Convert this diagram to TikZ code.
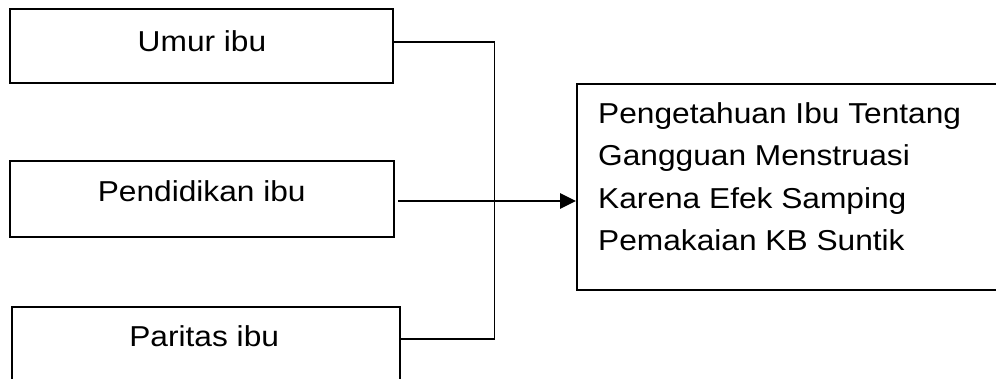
\documentclass[tikz,border=0pt]{standalone}
\usepackage{fontspec}
\setmainfont{Liberation Sans}[FakeStretch=1.1]
\usetikzlibrary{arrows.meta}

\tikzset{
  factor/.style={draw=black, line width=1.8pt, fill=none, inner sep=0pt},
  label/.style={font=\fontsize{28.8}{42.4}\selectfont, inner sep=0pt},
  link/.style={draw=black, line width=1.8pt},
  arrowlink/.style={link, -{Triangle[length=16pt,width=15.5pt]}}
}

\begin{document}
\begin{tikzpicture}[x=1pt, y=-1pt]
  \useasboundingbox (0,0) rectangle (996,378);
  \clip (0,0) rectangle (996,378);

  % factor boxes on the left
  \node[factor, minimum width=383.3pt, minimum height=73.7pt] (umur) at (201.7,45.85) {};
  \node[factor, minimum width=384pt, minimum height=76.6pt] (pendidikan) at (202,199) {};
  \node[factor, minimum width=388pt, minimum height=100pt, anchor=north west] (paritas) at (11,305.7) {};

  \node[label, anchor=base] (umurtxt) at (202,51) {Umur ibu};
  \node[label, anchor=base] (pendidikantxt) at (201.7,201.7) {Pendidikan ibu};
  \node[label, anchor=base] (paritastxt) at (204.2,346.7) {Paritas ibu};

  % outcome box on the right (base anchor sits on the last line)
  \node[factor, minimum width=440pt, minimum height=206pt, anchor=north west] (hasil) at (576,83) {};
  \node[label, anchor=base west, align=left] (hasiltxt) at (598,250.7)
    {Pengetahuan Ibu Tentang\\Gangguan Menstruasi\\Karena Efek Samping\\Pemakaian KB Suntik};

  % collecting bus and arrow
  \coordinate (bustop) at (494.5,42.3);
  \coordinate (busbot) at (494.5,339.3);
  \coordinate (arrstart) at (398,201);

  \draw[link] (umur.east |- bustop) -- (bustop) -- (busbot) -- (paritas.east |- busbot);
  \draw[arrowlink] (arrstart) -- (hasil.west |- arrstart);
\end{tikzpicture}
\end{document}
